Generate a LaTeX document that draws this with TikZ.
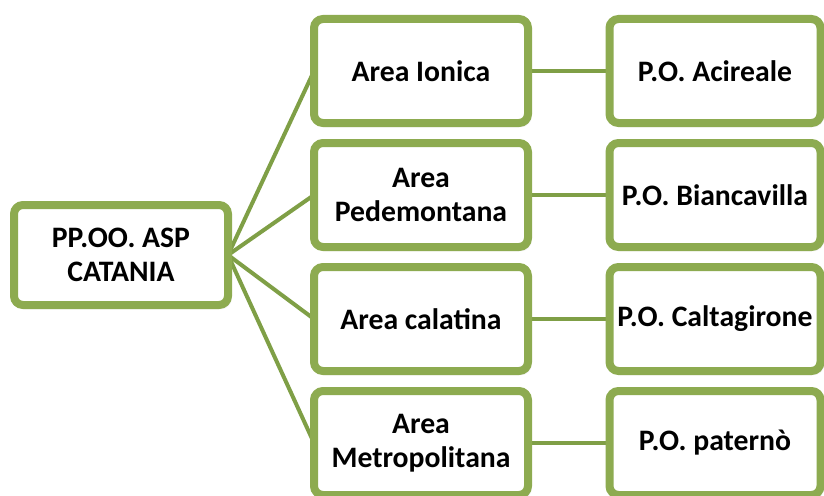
\documentclass[tikz,border=0pt]{standalone}
\usepackage{fontspec}
\setmainfont{Carlito}
\usepackage{tikz}
\usetikzlibrary{positioning,backgrounds,shadows.blur}
\definecolor{boxline}{HTML}{8DAB50}
\definecolor{linkline}{HTML}{7F9F46}

\begin{document}
\begin{tikzpicture}[
      x=1pt, y=1pt,
      node distance=20pt and 86pt,
      box/.style={draw=boxline,line width=8pt,rounded corners=9pt,fill=white,align=center,
        minimum width=214pt,minimum height=104pt,inner sep=0pt,outer sep=0pt,
        font=\fontsize{29.7}{34}\selectfont\bfseries,
        blur shadow={shadow xshift=2pt,shadow yshift=-2.5pt,shadow opacity=35,shadow blur steps=6}},
      po/.style={box,minimum width=211pt},
      link/.style={draw=linkline,line width=4pt}
    ]
    \useasboundingbox (0,0) rectangle (824,-495);
    \node[box] (ionica) at (421,-71) {Area Ionica};
    \node[box, below=of ionica] (pedemontana) {Area\\Pedemontana};
    \node[box, below=of pedemontana] (calatina) {Area calatina};
    \node[box, below=of calatina] (metro) {Area\\Metropolitana};
    \coordinate (split) at ($(ionica.west)!0.5!(metro.west)+(0,2)$);
    \node[box, minimum height=100pt, left=of split] (asp) {PP.OO. ASP\\CATANIA};

    \node[po, right=of ionica, xshift=-4.5pt] (acireale) {P.O. Acireale};
    \node[po, right=of pedemontana, xshift=-4.5pt] (biancavilla) {P.O. Biancavilla};
    \node[po, right=of calatina, xshift=-4.5pt] (caltagirone) {P.O. Caltagirone};
    \node[po, right=of metro, xshift=-4.5pt] (paterno) {P.O. paternò};

    \begin{scope}[on background layer]
      \foreach \mid/\po in {ionica/acireale,pedemontana/biancavilla,calatina/caltagirone,metro/paterno} {
        \draw[link] (asp.east) -- (\mid.west);
        \draw[link] (\mid.east) -- (\po.west);
      }
    \end{scope}
  \end{tikzpicture}
\end{document}
